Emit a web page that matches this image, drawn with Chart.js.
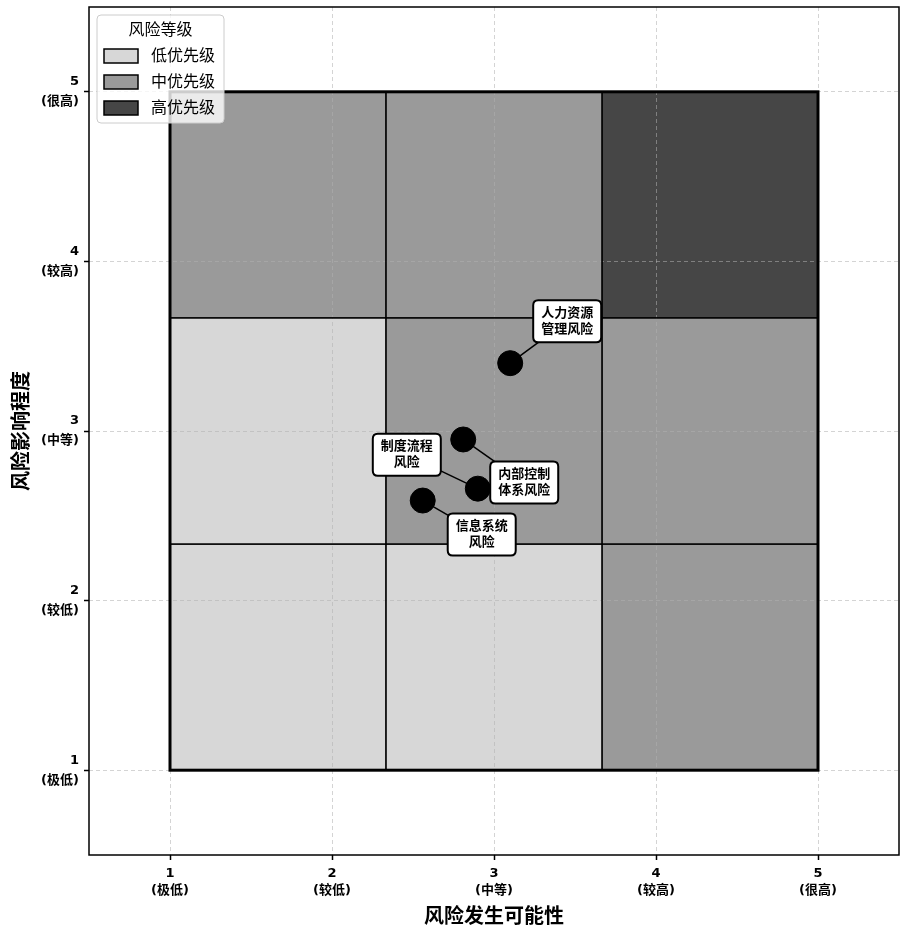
<!DOCTYPE html>
<html>
<head>
<meta charset="utf-8">
<script src="https://cdn.jsdelivr.net/npm/chart.js@4.4.1/dist/chart.umd.min.js"></script>
<style>
  html, body { margin: 0; padding: 0; background: #ffffff; }
  #wrap { width: 904px; height: 929px; }
</style>
</head>
<body>
<div id="wrap"><canvas id="c" width="904" height="929"></canvas></div>
<script>
// ---- data ----
const riskNames = [['人力资源', '管理风险'], ['制度流程', '风险'], ['内部控制', '体系风险'], ['信息系统', '风险']];
const likelihood = [3.1, 2.9, 2.81, 2.56];
const impact = [3.4, 2.66, 2.95, 2.59];
const levelLabels = ['极低', '较低', '中等', '较高', '很高'];
const tickValues = [1, 2, 3, 4, 5];
const zoneEdges = [1, 2.333, 3.667, 5];
// zone level by row (bottom to top) and column (left to right): 0 low, 1 mid, 2 high
const zoneLevels = [[0, 0, 1], [0, 1, 1], [1, 1, 2]];
const legendNames = ['低优先级', '中优先级', '高优先级'];
const legendTitle = '风险等级';
const xTitle = '风险发生可能性';
const yTitle = '风险影响程度';

// ---- style ----
const zoneColors = ['#d7d7d7', '#9a9a9a', '#464646'];
const labelOffsets = [[57, -42], [-71, -34], [61, 43], [59, 34]];
const FONT = "'DejaVu Sans', 'Noto Sans CJK SC', sans-serif";

function zoneRect(xs, ys, r, c) {
  const x0 = xs.getPixelForValue(zoneEdges[c]), x1 = xs.getPixelForValue(zoneEdges[c + 1]);
  const y0 = ys.getPixelForValue(zoneEdges[r + 1]), y1 = ys.getPixelForValue(zoneEdges[r]);
  return [x0, y0, x1 - x0, y1 - y0];
}

const zonesPlugin = {
  id: 'zones',
  beforeDraw(chart) {
    const ctx = chart.ctx, xs = chart.scales.x, ys = chart.scales.y;
    ctx.save();
    for (let r = 0; r < 3; r++) {
      for (let c = 0; c < 3; c++) {
        const [x, y, w, h] = zoneRect(xs, ys, r, c);
        ctx.fillStyle = zoneColors[zoneLevels[r][c]];
        ctx.fillRect(x, y, w, h);
      }
    }
    ctx.restore();
  },
  beforeDatasetsDraw(chart) {
    const ctx = chart.ctx, xs = chart.scales.x, ys = chart.scales.y;
    ctx.save();
    ctx.strokeStyle = '#000';
    ctx.lineWidth = 1.2;
    for (let r = 0; r < 3; r++) {
      for (let c = 0; c < 3; c++) {
        const [x, y, w, h] = zoneRect(xs, ys, r, c);
        ctx.strokeRect(x, y, w, h);
      }
    }
    const L = xs.getPixelForValue(zoneEdges[0]), R = xs.getPixelForValue(zoneEdges[3]);
    const T = ys.getPixelForValue(zoneEdges[3]), B = ys.getPixelForValue(zoneEdges[0]);
    ctx.lineWidth = 3;
    ctx.strokeRect(L, T, R - L, B - T);
    ctx.restore();
  }
};

function roundRect(ctx, x, y, w, h, r) {
  ctx.beginPath();
  ctx.moveTo(x + r, y);
  ctx.lineTo(x + w - r, y);
  ctx.quadraticCurveTo(x + w, y, x + w, y + r);
  ctx.lineTo(x + w, y + h - r);
  ctx.quadraticCurveTo(x + w, y + h, x + w - r, y + h);
  ctx.lineTo(x + r, y + h);
  ctx.quadraticCurveTo(x, y + h, x, y + h - r);
  ctx.lineTo(x, y + r);
  ctx.quadraticCurveTo(x, y, x + r, y);
  ctx.closePath();
}

const labelsPlugin = {
  id: 'riskLabels',
  afterDatasetsDraw(chart) {
    const ctx = chart.ctx, xs = chart.scales.x, ys = chart.scales.y;
    ctx.save();
    ctx.font = 'bold 13px ' + FONT;
    for (let i = 0; i < riskNames.length; i++) {
      const px = xs.getPixelForValue(likelihood[i]), py = ys.getPixelForValue(impact[i]);
      const cx = px + labelOffsets[i][0], cy = py + labelOffsets[i][1];
      ctx.strokeStyle = '#000';
      ctx.lineWidth = 1.5;
      ctx.beginPath(); ctx.moveTo(px, py); ctx.lineTo(cx, cy); ctx.stroke();
      const lines = riskNames[i];
      const w = Math.max(...lines.map(t => ctx.measureText(t).width)) + 16;
      const h = 42;
      roundRect(ctx, cx - w / 2, cy - h / 2, w, h, 5);
      ctx.fillStyle = '#fff';
      ctx.fill();
      ctx.lineWidth = 2;
      ctx.stroke();
      ctx.fillStyle = '#000';
      ctx.textAlign = 'center';
      ctx.textBaseline = 'middle';
      ctx.fillText(lines[0], cx, cy - 8);
      ctx.fillText(lines[1], cx, cy + 8);
    }
    ctx.restore();
  }
};

const framePlugin = {
  id: 'frameLegend',
  afterDraw(chart) {
    const ctx = chart.ctx, a = chart.chartArea;
    ctx.save();
    ctx.strokeStyle = '#000';
    ctx.lineWidth = 1.5;
    ctx.strokeRect(a.left, a.top, a.right - a.left, a.bottom - a.top);
    // legend
    const lx = a.left + 8, ly = a.top + 8, lw = 127, lh = 108;
    roundRect(ctx, lx, ly, lw, lh, 4);
    ctx.fillStyle = 'rgba(255,255,255,0.8)';
    ctx.fill();
    ctx.strokeStyle = '#cccccc';
    ctx.lineWidth = 1;
    ctx.stroke();
    ctx.fillStyle = '#000';
    ctx.textBaseline = 'middle';
    ctx.textAlign = 'center';
    ctx.font = '16px ' + FONT;
    ctx.fillText(legendTitle, lx + lw / 2, ly + 16);
    ctx.textAlign = 'left';
    for (let i = 0; i < legendNames.length; i++) {
      const yy = ly + 41 + i * 26;
      ctx.fillStyle = zoneColors[i];
      ctx.fillRect(lx + 7, yy - 7, 34, 14);
      ctx.strokeStyle = '#000';
      ctx.lineWidth = 1.5;
      ctx.strokeRect(lx + 7, yy - 7, 34, 14);
      ctx.fillStyle = '#000';
      ctx.fillText(legendNames[i], lx + 54, yy + 1);
    }
    ctx.restore();
  }
};

const tickCb = v => [String(v), '(' + levelLabels[v - 1] + ')'];
const zeroPad = s => { s.paddingTop = 0; s.paddingBottom = 0; s.paddingLeft = 0; s.paddingRight = 0; };

new Chart(document.getElementById('c'), {
  type: 'scatter',
  data: {
    datasets: [{
      data: likelihood.map((x, i) => ({ x: x, y: impact[i] })),
      backgroundColor: '#000',
      borderColor: '#000',
      pointRadius: 12.5,
      pointHoverRadius: 12.5
    }]
  },
  options: {
    responsive: false,
    animation: false,
    devicePixelRatio: 1,
    layout: { autoPadding: false, padding: { left: 0, right: 5, top: 7, bottom: 0 } },
    plugins: { legend: { display: false }, tooltip: { enabled: false } },
    scales: {
      x: {
        type: 'linear', min: 0.5, max: 5.5,
        afterBuildTicks: s => { s.ticks = tickValues.map(v => ({ value: v })); },
        afterFit: s => { s.height = 74; zeroPad(s); },
        grid: { color: 'rgba(176,176,176,0.55)', lineWidth: 1, tickColor: '#000', tickLength: 5, tickWidth: 1.5 },
        border: { display: false, dash: [4, 3] },
        ticks: { callback: tickCb, color: '#000', font: { family: FONT, size: 13, weight: 'bold', lineHeight: 1.3 }, padding: 5, maxRotation: 0 },
        title: { display: true, text: xTitle, color: '#000', font: { family: FONT, size: 20, weight: 'bold', lineHeight: 1 }, padding: { top: 0, bottom: 1 } }
      },
      y: {
        type: 'linear', min: 0.5, max: 5.5,
        afterBuildTicks: s => { s.ticks = tickValues.map(v => ({ value: v })); },
        afterFit: s => { s.width = 89; zeroPad(s); },
        grid: { color: 'rgba(176,176,176,0.55)', lineWidth: 1, tickColor: '#000', tickLength: 5, tickWidth: 1.5 },
        border: { display: false, dash: [4, 3] },
        ticks: { callback: tickCb, color: '#000', font: { family: FONT, size: 13, weight: 'bold', lineHeight: 1.55 }, padding: 5 },
        title: { display: true, text: yTitle, color: '#000', font: { family: FONT, size: 20, weight: 'bold' }, padding: { top: 11, bottom: 0 } }
      }
    }
  },
  plugins: [zonesPlugin, labelsPlugin, framePlugin]
});
</script>
</body>
</html>
